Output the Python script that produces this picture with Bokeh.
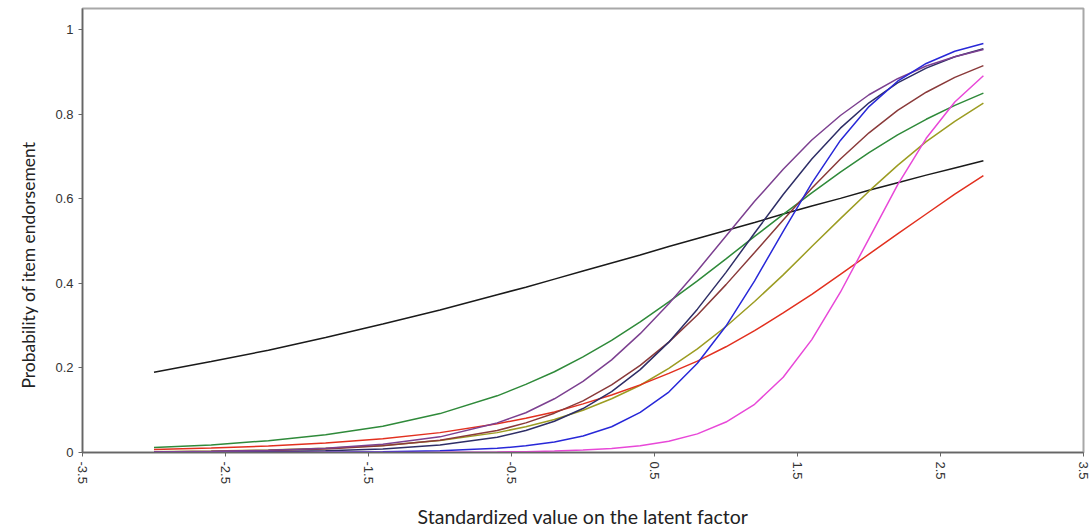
from bokeh.plotting import figure
from bokeh.models import Range1d, FixedTicker, Title
from bokeh.embed import file_html
from bokeh.resources import INLINE

x_vals = [-3.0, -2.6, -2.2, -1.8, -1.4, -1.0, -0.6, -0.4, -0.2, 0.0, 0.2, 0.4,
          0.6, 0.8, 1.0, 1.2, 1.4, 1.6, 1.8, 2.0, 2.2, 2.4, 2.6, 2.8]

item_black = [0.190, 0.215, 0.242, 0.272, 0.304, 0.337, 0.373, 0.391, 0.410, 0.429, 0.448, 0.467,
              0.487, 0.506, 0.525, 0.544, 0.564, 0.583, 0.601, 0.620, 0.638, 0.656, 0.673, 0.690]
item_green = [0.012, 0.018, 0.028, 0.042, 0.062, 0.092, 0.134, 0.161, 0.191, 0.226, 0.265, 0.309,
              0.356, 0.406, 0.458, 0.511, 0.563, 0.614, 0.663, 0.709, 0.751, 0.788, 0.821, 0.850]
item_purple = [0.0014, 0.0028, 0.0053, 0.0102, 0.0196, 0.037, 0.070, 0.094, 0.127, 0.168, 0.219, 0.281,
               0.352, 0.430, 0.512, 0.594, 0.670, 0.739, 0.797, 0.846, 0.884, 0.914, 0.936, 0.953]
item_navy = [0.0004, 0.001, 0.002, 0.004, 0.008, 0.018, 0.036, 0.052, 0.074, 0.104, 0.144, 0.196,
             0.261, 0.339, 0.426, 0.519, 0.610, 0.694, 0.767, 0.827, 0.874, 0.909, 0.936, 0.955]
item_blue = [0.0000, 0.0001, 0.0002, 0.0006, 0.0015, 0.0039, 0.0099, 0.0157, 0.0248, 0.039, 0.061, 0.095,
             0.143, 0.211, 0.299, 0.406, 0.523, 0.637, 0.738, 0.818, 0.878, 0.920, 0.949, 0.967]
item_brown = [0.0013, 0.0025, 0.0046, 0.0085, 0.0157, 0.0288, 0.052, 0.070, 0.093, 0.122, 0.160, 0.206,
              0.261, 0.325, 0.397, 0.473, 0.550, 0.625, 0.694, 0.756, 0.809, 0.852, 0.887, 0.915]
item_olive = [0.002, 0.0034, 0.0058, 0.0099, 0.0167, 0.0283, 0.047, 0.061, 0.078, 0.100, 0.127, 0.159,
              0.199, 0.245, 0.298, 0.357, 0.420, 0.487, 0.553, 0.618, 0.679, 0.735, 0.783, 0.826]
item_red = [0.0072, 0.0105, 0.0154, 0.0225, 0.0326, 0.047, 0.068, 0.081, 0.096, 0.115, 0.136, 0.160,
            0.187, 0.216, 0.250, 0.288, 0.330, 0.374, 0.421, 0.469, 0.517, 0.564, 0.611, 0.655]
item_magenta = [0.0000, 0.0000, 0.0000, 0.0001, 0.0002, 0.0004, 0.0012, 0.0020, 0.0034, 0.0057, 0.0096, 0.016,
                0.0266, 0.044, 0.072, 0.114, 0.178, 0.267, 0.379, 0.506, 0.633, 0.743, 0.829, 0.891]

series = [
    (item_black, "#1a1a1a"),
    (item_green, "#2f8a3a"),
    (item_olive, "#9c9c22"),
    (item_red, "#e2301f"),
    (item_brown, "#8a3a3a"),
    (item_navy, "#2e2e66"),
    (item_purple, "#7c4090"),
    (item_blue, "#2828d8"),
    (item_magenta, "#e848d8"),
]

x_ticks = [-3.5, -2.5, -1.5, -0.5, 0.5, 1.5, 2.5, 3.5]
x_tick_labels = ["-3.5", "-2.5", "-1.5", "-0.5", "0.5", "1.5", "2.5", "3.5"]
y_ticks = [0, 0.2, 0.4, 0.6, 0.8, 1]
y_tick_labels = ["0", "0.2", "0.4", "0.6", "0.8", "1"]

x_title = "Standardized value on the latent factor"
y_title = "Probability of item endorsement"

p = figure(width=1091, height=531, output_backend="svg", toolbar_location=None,
           x_range=Range1d(-3.5, 3.5), y_range=Range1d(0, 1.05),
           min_border_left=82, min_border_right=8, min_border_top=8, min_border_bottom=79)

for ys, col in series:
    p.line(x_vals, ys, line_color=col, line_width=1.5)

p.xgrid.visible = False
p.ygrid.visible = False
p.outline_line_color = "#a8a8a8"
p.outline_line_width = 2

tick_font = "Liberation Sans"
label_font = "Lato"

p.xaxis.ticker = FixedTicker(ticks=x_ticks)
p.xaxis.major_label_overrides = dict(zip(x_ticks, x_tick_labels))
p.xaxis.major_label_orientation = "vertical"
p.yaxis.ticker = FixedTicker(ticks=y_ticks)
p.yaxis.major_label_overrides = dict(zip(y_ticks, y_tick_labels))

for ax in (p.xaxis[0], p.yaxis[0]):
    ax.axis_line_color = "#666666"
    ax.axis_line_width = 1.5
    ax.major_tick_line_color = "#666666"
    ax.major_tick_in = 0
    ax.major_tick_out = 4
    ax.minor_tick_line_color = None
    ax.major_label_text_font = tick_font
    ax.major_label_text_font_size = "13px"
    ax.major_label_text_color = "#333333"

p.xaxis.axis_label = x_title
p.xaxis.axis_label_text_font = label_font
p.xaxis.axis_label_text_font_size = "19.5px"
p.xaxis.axis_label_text_font_style = "normal"
p.xaxis.axis_label_text_color = "#222222"
p.xaxis.axis_label_standoff = 18

ytitle = Title(text=y_title, align="left", offset=64, standoff=24, vertical_align="top",
               text_font=label_font, text_font_size="17.5px",
               text_font_style="normal", text_color="#222222")
p.add_layout(ytitle, "left")

open("out.html", "w").write(file_html(p, INLINE))
